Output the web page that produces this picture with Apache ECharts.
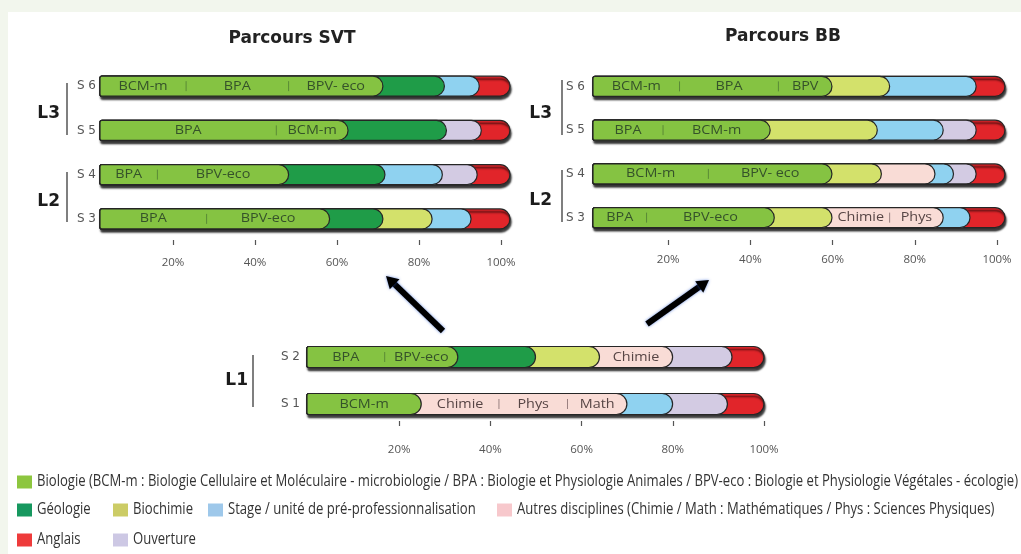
<!DOCTYPE html>
<html><head><meta charset="utf-8">
<script src="https://cdn.jsdelivr.net/npm/echarts@6/dist/echarts.min.js"></script>
<style>
html,body{margin:0;padding:0;background:#f2f6ed;width:1021px;height:554px;overflow:hidden;}
#panel{position:absolute;left:8px;top:12px;width:1013px;height:542px;background:#fff;}
#main{position:absolute;left:0;top:0;width:1021px;height:554px;}
</style></head>
<body><div id="panel"></div><div id="main"></div>
<script>
// ---------------- DATA ----------------
const categories = ['Biologie','Géologie','Biochimie','Stage','Autres','Anglais','Ouverture'];
const legendLabels = [
  'Biologie (BCM-m : Biologie Cellulaire et Moléculaire - microbiologie / BPA : Biologie et Physiologie Animales / BPV-eco : Biologie et Physiologie Végétales - écologie)',
  'Géologie','Biochimie','Stage / unité de pré-professionnalisation',
  'Autres disciplines (Chimie / Math : Mathématiques / Phys : Sciences Physiques)',
  'Anglais','Ouverture'
];
const tickValues = [20,40,60,80,100];
const tickLabels = ['20%','40%','60%','80%','100%'];
const titles = ['Parcours SVT','Parcours BB'];

// Parcours SVT (share of each semester, %)
const svtRows = ['S 3','S 4','S 5','S 6'];
const svtGroups = ['L2','L3'];
const svtS3 = [['Biologie',56],['Géologie',13],['Biochimie',12],['Stage',9.5],['Anglais',9.5]];
const svtS3Parts = [[0,'BPA',26],[0,'BPV-eco',30]];
const svtS4 = [['Biologie',46],['Géologie',23.5],['Stage',14],['Ouverture',8.5],['Anglais',8]];
const svtS4Parts = [[0,'BPA',14],[0,'BPV-eco',32]];
const svtS5 = [['Biologie',60.5],['Géologie',24],['Ouverture',8.5],['Anglais',7]];
const svtS5Parts = [[0,'BPA',43],[0,'BCM-m',17.5]];
const svtS6 = [['Biologie',69],['Géologie',15],['Stage',8.5],['Anglais',7.5]];
const svtS6Parts = [[0,'BCM-m',21],[0,'BPA',25],[0,'BPV- eco',23]];

// Parcours BB
const bbRows = ['S 3','S 4','S 5','S 6'];
const bbGroups = ['L2','L3'];
const bbS3 = [['Biologie',44],['Biochimie',14],['Autres',27],['Stage',6.5],['Anglais',8.5]];
const bbS3Parts = [[0,'BPA',13],[0,'BPV-eco',31],[2,'Chimie',14],[2,'Phys',13]];
const bbS4 = [['Biologie',58],['Biochimie',12],['Autres',13],['Stage',4.5],['Ouverture',5.5],['Anglais',7]];
const bbS4Parts = [[0,'BCM-m',28],[0,'BPV- eco',30]];
const bbS5 = [['Biologie',43],['Biochimie',26],['Stage',16],['Ouverture',8],['Anglais',7]];
const bbS5Parts = [[0,'BPA',17],[0,'BCM-m',26]];
const bbS6 = [['Biologie',58],['Biochimie',14],['Stage',21],['Anglais',7]];
const bbS6Parts = [[0,'BCM-m',21],[0,'BPA',24],[0,'BPV',13]];

// L1 (common)
const l1Rows = ['S 1','S 2'];
const l1Groups = ['L1'];
const l1S1 = [['Biologie',25],['Autres',45],['Stage',10],['Ouverture',12],['Anglais',8]];
const l1S1Parts = [[0,'BCM-m',25],[1,'Chimie',17],[1,'Phys',15],[1,'Math',13]];
const l1S2 = [['Biologie',33],['Géologie',17],['Biochimie',14],['Autres',16],['Ouverture',13],['Anglais',7]];
const l1S2Parts = [[0,'BPA',17],[0,'BPV-eco',16],[3,'Chimie',16]];

// ---------------- STYLE ----------------
const barColors = {Biologie:'#85c342','Géologie':'#1f9c48',Biochimie:'#d3e16b',Stage:'#8fd2f0',Autres:'#f9dcd6',Anglais:'#e1252a',Ouverture:'#d3cbe3'};
const legendColors = ['#8dc63f','#17985f','#cccc66','#9ec8ea','#f7c8cc','#ee3b3b','#cdc8e4'];
const partTextColor = {Biologie:'#35522a', Autres:'#574545'};
const sepColor = {Biologie:'#5a8a36', Autres:'#9a8080'};

const chart = echarts.init(document.getElementById('main'), null, {renderer:'canvas'});

function segSeries(xIdx, yIdx, rowsData, barH) {
  const recs = [];
  rowsData.forEach((segs, r) => {
    let cum = 0; const ends = segs.map(s => (cum += s[1]));
    for (let i = segs.length - 1; i >= 0; i--) recs.push({end: ends[i], row: r, cat: segs[i][0], full: i === segs.length - 1});
  });
  return {
    type:'custom', xAxisIndex:xIdx, yAxisIndex:yIdx, clip:false, z:3,
    encode:{x:0, y:1},
    data: recs.map(d => [d.end, d.row]),
    renderItem: (params, api) => {
      const d = recs[params.dataIndex];
      const p0 = api.coord([0, d.row]);
      const p1 = api.coord([api.value(0), d.row]);
      const h = barH, r = h / 2;
      const style = {fill: barColors[d.cat], stroke:'#262626', lineWidth:1.2};
      if (d.full) { style.shadowBlur = 2; style.shadowOffsetX = 1; style.shadowOffsetY = 3; style.shadowColor = 'rgba(0,0,0,0.8)'; }
      return {type:'rect', shape:{x:p0[0], y:p0[1]-h/2, width:p1[0]-p0[0], height:h, r:[2, r, r, 2]}, style};
    }
  };
}

function partSeries(xIdx, yIdx, rowsData, partsData) {
  const recs = [];
  rowsData.forEach((segs, r) => {
    let cum = 0; const starts = segs.map(s => { const st = cum; cum += s[1]; return st; });
    const acc = {};
    partsData[r].forEach(p => {
      const si = p[0];
      const off = acc[si] || 0;
      const st = starts[si] + off;
      recs.push({center: st + p[2] / 2, row: r, label: p[1], sep: off > 0 ? st : null, cat: segs[si][0]});
      acc[si] = off + p[2];
    });
  });
  return {
    type:'custom', xAxisIndex:xIdx, yAxisIndex:yIdx, clip:false, z:4,
    encode:{x:0, y:1},
    data: recs.map(d => [d.center, d.row]),
    renderItem: (params, api) => {
      const d = recs[params.dataIndex];
      const c = api.coord([api.value(0), d.row]);
      const children = [{type:'text', x:c[0], y:c[1], scaleX:1.15,
        style:{text:d.label, fill:partTextColor[d.cat], font:'12.5px "Open Sans"', align:'center', verticalAlign:'middle'}}];
      if (d.sep !== null) {
        const s = api.coord([d.sep, d.row]);
        children.push({type:'line', shape:{x1:s[0], y1:c[1]-5, x2:s[0], y2:c[1]+5}, style:{stroke:sepColor[d.cat], lineWidth:1}});
      }
      return {type:'group', children};
    }
  };
}

const svtData = [svtS3, svtS4, svtS5, svtS6];
const svtParts = [svtS3Parts, svtS4Parts, svtS5Parts, svtS6Parts];
const bbData = [bbS3, bbS4, bbS5, bbS6];
const bbParts = [bbS3Parts, bbS4Parts, bbS5Parts, bbS6Parts];
const l1Data = [l1S1, l1S2];
const l1Parts = [l1S1Parts, l1S2Parts];

const hiddenX = i => ({gridIndex:i, type:'value', min:0, max:100, show:false});
const tickX = (i, margin) => ({gridIndex:i, type:'value', min:0, max:100,
  axisLine:{show:false}, splitLine:{show:false},
  axisTick:{show:true, length:5, customValues:tickValues, lineStyle:{color:'#555', width:1.2}},
  axisLabel:{customValues:tickValues, margin, color:'#555', fontSize:11.5, fontFamily:'Open Sans',
    formatter: v => tickLabels[tickValues.indexOf(v)] || ''}});
const rowY = (i, data, margin) => ({gridIndex:i, type:'category', data, position:'left',
  axisLine:{show:false}, axisTick:{show:false},
  axisLabel:{margin, color:'#555', fontSize:12, fontFamily:'DejaVu Sans'}});
const groupY = (i, data, margin, lh) => ({gridIndex:i, type:'category', data, position:'left',
  axisLine:{show:false}, axisTick:{show:false},
  axisLabel:{margin, color:'#1c1c1c', fontSize:17, fontWeight:'bold', fontFamily:'DejaVu Sans', lineHeight:lh,
    formatter: v => lh ? '\n' + v : v}});
const hiddenY = i => ({gridIndex:i, type:'value', show:false, min:0, max:1});

// legend via graphic
const legFont = '15.5px "Open Sans"';
const ctx = document.createElement('canvas').getContext('2d');
ctx.font = legFont;
const legScale = 981 / ctx.measureText(legendLabels[0]).width;
const legendPos = [[37,482],[37,510],[133,510],[228,510],[517,510],[37,540],[133,540]];
const graphics = [];
legendPos.forEach((p, i) => {
  graphics.push({type:'rect', shape:{x:p[0]-20, y:p[1]-6.5, width:15, height:13}, style:{fill:legendColors[i]}});
  graphics.push({type:'text', x:p[0], y:p[1], scaleX:legScale,
    style:{text:legendLabels[i], fill:'#333', font:legFont, align:'left', verticalAlign:'middle'}});
});
// group brackets
[[67,83,135],[67,172,222],[562,80,135],[562,170,222],[253,355,407]].forEach(b => {
  graphics.push({type:'line', shape:{x1:b[0], y1:b[1], x2:b[0], y2:b[2]}, style:{stroke:'#555', lineWidth:1.5}});
});
// arrows
function arrow(tail, tip) {
  const dx = tip[0]-tail[0], dy = tip[1]-tail[1], L = Math.hypot(dx, dy);
  const ux = dx/L, uy = dy/L, hl = 12, hw = 7;
  const base = [tip[0]-ux*hl, tip[1]-uy*hl];
  const sh = {shadowBlur:3, shadowColor:'rgba(40,90,210,0.7)'};
  graphics.push({type:'line', shape:{x1:tail[0], y1:tail[1], x2:base[0]+ux*2, y2:base[1]+uy*2}, style:Object.assign({stroke:'#000', lineWidth:6, lineCap:'butt'}, sh)});
  graphics.push({type:'polygon', shape:{points:[tip,[base[0]-uy*hw, base[1]+ux*hw],[base[0]+uy*hw, base[1]-ux*hw]]}, style:Object.assign({fill:'#000'}, sh)});
}
arrow([443,331],[386,276]);
arrow([647,324],[709,280]);

const option = {
  animation:false,
  title: [
    {text:titles[0], left:287, top:25, textAlign:'center', textStyle:{fontSize:17, fontWeight:'bold', fontFamily:'DejaVu Sans', color:'#222'}},
    {text:titles[1], left:778, top:23, textAlign:'center', textStyle:{fontSize:17, fontWeight:'bold', fontFamily:'DejaVu Sans', color:'#222'}}
  ],
  grid: [
    {left:100, top:64, width:410, height:177, outerBoundsMode:'none'},
    {left:593, top:64.5, width:412, height:175, outerBoundsMode:'none'},
    {left:307, top:333.5, width:457, height:94, outerBoundsMode:'none'},
    {left:91, top:200, width:410, height:40, outerBoundsMode:'none'},
    {left:586, top:200, width:411, height:40, outerBoundsMode:'none'},
    {left:308, top:381, width:456, height:40, outerBoundsMode:'none'}
  ],
  xAxis: [hiddenX(0), hiddenX(1), hiddenX(2), tickX(3,17), tickX(4,14), tickX(5,23)],
  yAxis: [
    rowY(0, svtRows, 4), groupY(0, svtGroups, 40, 10),
    rowY(1, bbRows, 8), groupY(1, bbGroups, 41, 10),
    rowY(2, l1Rows, 7), groupY(2, l1Groups, 59, 0),
    hiddenY(3), hiddenY(4), hiddenY(5)
  ],
  series: [
    segSeries(0, 0, svtData, 20), partSeries(0, 0, svtData, svtParts),
    segSeries(1, 2, bbData, 20), partSeries(1, 2, bbData, bbParts),
    segSeries(2, 4, l1Data, 21), partSeries(2, 4, l1Data, l1Parts)
  ],
  graphic: graphics
};
chart.setOption(option);
</script>
</body></html>
